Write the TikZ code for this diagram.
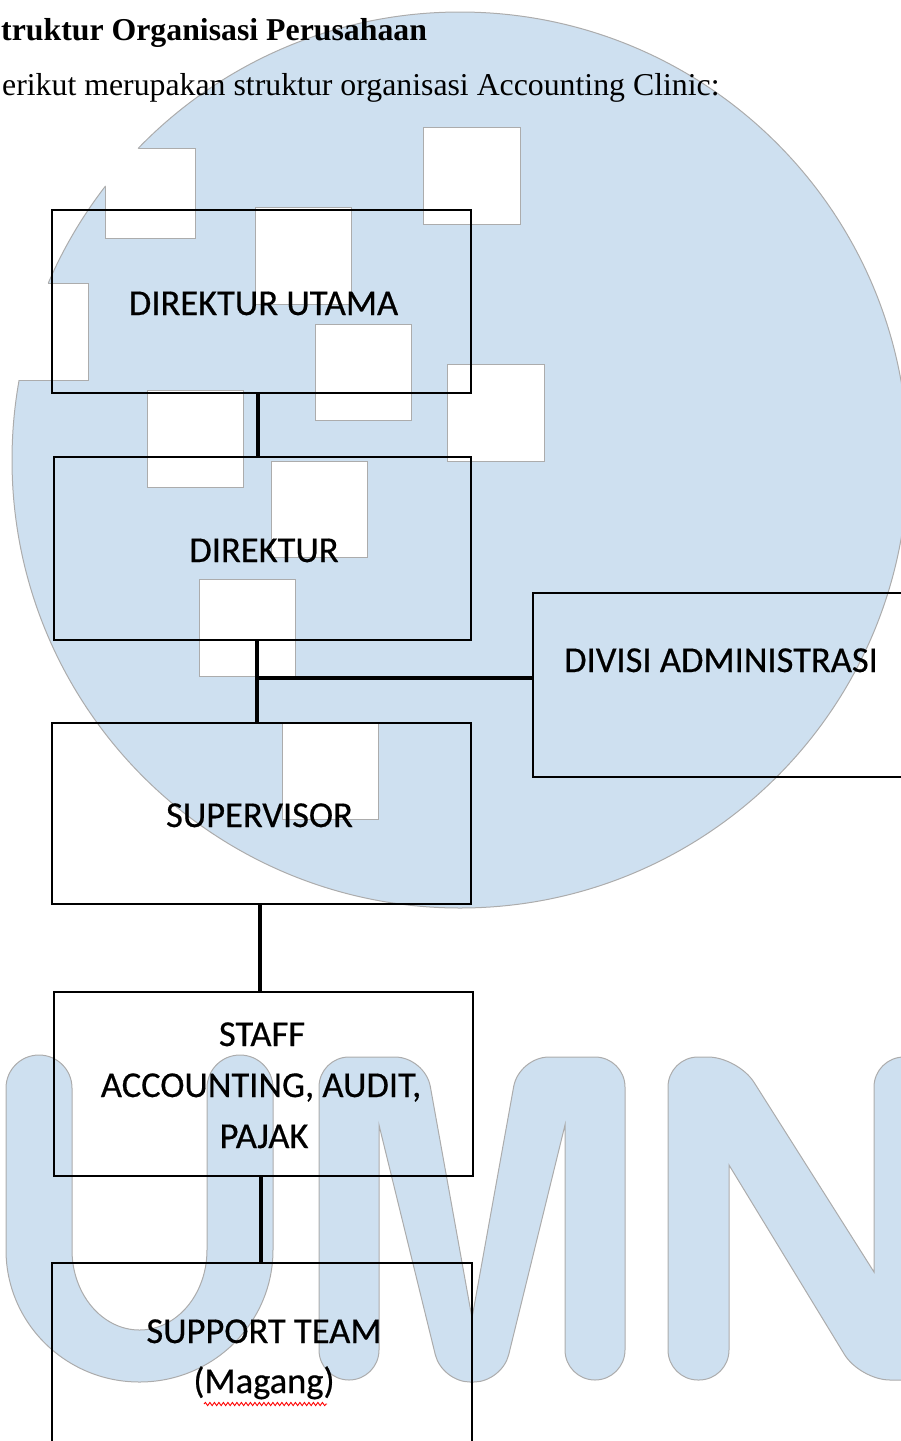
\documentclass[tikz,border=0pt]{standalone}
\usepackage{graphicx}
\usepackage{fontspec}
\setmainfont{Liberation Serif}
\newfontfamily\calfont[FakeBold=0.5]{Carlito}
\usetikzlibrary{decorations.pathmorphing}
\definecolor{umnblue}{RGB}{206,224,240}
\definecolor{umngray}{RGB}{172,172,172}
\begin{document}
\begin{tikzpicture}[x=1pt,y=-1pt,
  boxnode/.style={draw=black, line width=2.3pt, rectangle, inner sep=0pt},
  conn/.style={draw=black, line width=4pt},
  lbl/.style={anchor=base, inner sep=0pt, font=\calfont\fontsize{36.5pt}{44pt}\selectfont},
  sq/.style={fill=white},
  sqedge/.style={draw=umngray, line width=1pt},
  letter/.style={fill=umnblue, draw=umngray, line width=1pt}]
\useasboundingbox (0,0) rectangle (901,1441);
% watermark circle
\fill[umnblue] (460,460) circle[radius=448];
\draw[umngray, line width=1pt] (460,460) circle[radius=448];
% white squares
\foreach \xa/\ya/\xb/\yb in {105/148/195/238, -9/283/88/380, 423/127/520/224, 255/207/351/304, 315/324/411/420, 447/364/544/461, 147/390/243/487, 271/461/367/557, 199/579/295/676, 282/723/378/819}{
  \fill[sq] (\xa,\ya) rectangle (\xb,\yb);
}
\begin{scope}
\clip (460,460) circle[radius=448];
\foreach \xa/\ya/\xb/\yb in {105/148/195/238, -9/283/88/380, 423/127/520/224, 255/207/351/304, 315/324/411/420, 447/364/544/461, 147/390/243/487, 271/461/367/557, 199/579/295/676, 282/723/378/819}{
  \draw[sqedge] (\xa,\ya) rectangle (\xb,\yb);
}
\end{scope}
% UMN letters
\path[letter] (6,1088) arc[start angle=180, end angle=360, radius=33] -- (72,1250)
  arc[start angle=180, end angle=0, x radius=67.5, y radius=80] -- (207,1088)
  arc[start angle=180, end angle=360, radius=33] -- (273,1250)
  arc[start angle=0, end angle=180, x radius=133.5, y radius=132] -- cycle;
\path[letter] (319,1300) [rounded corners=30pt] -- (319,1057) -- (425,1057) [sharp corners] -- (472,1318)
  [rounded corners=30pt] -- (519,1057) -- (625,1057) -- (625,1380) -- (565,1380) [sharp corners] -- (565,1125)
  [rounded corners=28pt] -- (502,1382) -- (442,1382) [sharp corners] -- (379,1125)
  [rounded corners=30pt] -- (379,1380) -- (319,1380) -- (319,1300);
\path[letter] (668,1300) [rounded corners=30pt] -- (668,1057) -- (738,1057) [sharp corners] -- (874,1272)
  [rounded corners=30pt] -- (874,1057) -- (934,1057) -- (934,1380) -- (860,1380) [sharp corners] -- (729,1165)
  [rounded corners=30pt] -- (729,1380) -- (668,1380) -- (668,1300);
% heading texts
\node[anchor=base west, inner sep=0pt] (title) at (1,40) {\fontsize{31.8pt}{38pt}\selectfont\bfseries truktur Organisasi Perusahaan};
\node[anchor=base west, inner sep=0pt] (intro) at (2,95) {\fontsize{31.8pt}{38pt}\selectfont erikut merupakan struktur organisasi Accounting Clinic:};
% boxes
\node[boxnode, minimum width=419pt, minimum height=183pt] (du) at (261.5,301.5) {};
\node[boxnode, minimum width=417pt, minimum height=183pt] (dir) at (262.5,548.5) {};
\node[boxnode, minimum width=377pt, minimum height=184pt] (div) at (721.5,685) {};
\node[boxnode, minimum width=419pt, minimum height=181pt] (sup) at (261.5,813.5) {};
\node[boxnode, minimum width=419pt, minimum height=184pt] (staff) at (263.5,1084) {};
\node[boxnode, minimum width=420pt, minimum height=197pt] (supp) at (262,1361.5) {};
% connectors
\draw[conn] ([xshift=-3.5pt]du.south) -- ([xshift=-4.5pt]dir.north);
\draw[conn] ([xshift=-5.5pt]dir.south) -- ([xshift=-4.5pt]sup.north);
\coordinate (j) at (257,678);
\draw[conn] (j) -- (j -| div.west);
\draw[conn] ([xshift=-1.5pt]sup.south) -- ([xshift=-3.5pt]staff.north);
\draw[conn] ([xshift=-2.5pt]staff.south) -- ([xshift=-1pt]supp.north);
% labels
\node[lbl] (tdu) at (263.5,315) {DIREKTUR UTAMA};
\node[lbl] (tdir) at (264,562) {DIREKTUR};
\node[lbl] (tdiv) at (721,672) {DIVISI ADMINISTRASI};
\node[lbl] (tsup) at (259.5,827) {SUPERVISOR};
\node[lbl] (ts1) at (262,1046) {STAFF};
\node[lbl] (ts2) at (261,1097) {ACCOUNTING, AUDIT,};
\node[lbl] (ts3) at (264,1148) {PAJAK};
\node[lbl] (tp1) at (264,1343) {SUPPORT TEAM};
\node[lbl] (tp2) at (264,1393) {(Magang)};
\draw[red, line width=0.9pt, decorate, decoration={snake, amplitude=1.6pt, segment length=4.5pt}] (204,1404) -- (327,1404);
\end{tikzpicture}
\end{document}
